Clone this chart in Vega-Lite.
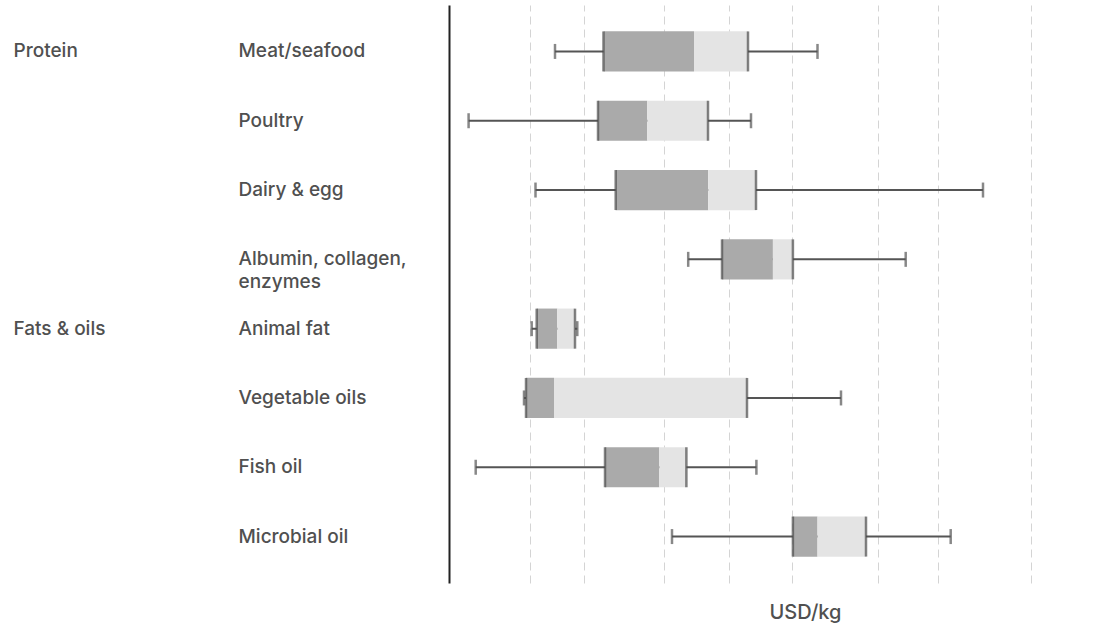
{
  "$schema": "https://vega.github.io/schema/vega-lite/v6.json",
  "width": 661,
  "height": 578,
  "autosize": {"type": "none"},
  "padding": {"left": 449, "top": 5, "right": 10, "bottom": 40},
  "background": "white",
  "config": {
    "view": {"stroke": null},
    "font": "Inter"
  },
  "datasets": {
    "boxes": [
      {"group": "Protein", "category": "Meat/seafood", "low": 106, "q1": 154.5, "median": 245, "q3": 299, "high": 368.5},
      {"group": "Protein", "category": "Poultry", "low": 19.6, "q1": 149, "median": 198.3, "q3": 259, "high": 302},
      {"group": "Protein", "category": "Dairy & egg", "low": 86.5, "q1": 166.7, "median": 259.2, "q3": 307, "high": 534},
      {"group": "Protein", "category": "Albumin, collagen, enzymes", "low": 239.2, "q1": 273, "median": 323.9, "q3": 343.9, "high": 456.7},
      {"group": "Fats & oils", "category": "Animal fat", "low": 82.7, "q1": 87.7, "median": 108.3, "q3": 126, "high": 128.3},
      {"group": "Fats & oils", "category": "Vegetable oils", "low": 75, "q1": 77, "median": 105, "q3": 298, "high": 392},
      {"group": "Fats & oils", "category": "Fish oil", "low": 26.7, "q1": 156, "median": 210.3, "q3": 237.4, "high": 307.4},
      {"group": "Fats & oils", "category": "Microbial oil", "low": 223, "q1": 343.9, "median": 368.5, "q3": 417, "high": 501.7}
    ]
  },
  "data": {"name": "boxes"},
  "encoding": {
    "y": {
      "field": "category",
      "type": "nominal",
      "scale": {
        "domain": ["Meat/seafood", "Poultry", "Dairy & egg", "Albumin, collagen, enzymes", "Animal fat", "Vegetable oils", "Fish oil", "Microbial oil"],
        "paddingInner": 0,
        "paddingOuter": 0.17
      },
      "axis": null
    }
  },
  "layer": [
    {
      "mark": {"type": "rule", "color": "#555555", "strokeWidth": 2},
      "encoding": {
        "x": {
          "field": "low",
          "type": "quantitative",
          "scale": {"domain": [0, 661], "nice": false, "zero": false},
          "axis": {
            "values": [81, 135, 215, 279.6, 342.8, 429, 489, 582],
            "grid": true,
            "gridDash": [8, 5],
            "gridColor": "#d4d4d4",
            "gridWidth": 1,
            "labels": false,
            "ticks": false,
            "domain": false,
            "title": "USD/kg",
            "titleFont": "Inter",
            "titleFontSize": 20,
            "titleFontWeight": 500,
            "titleColor": "#505050",
            "titlePadding": 19,
            "titleX": 356
          }
        },
        "x2": {"field": "high"},
        "y": {
          "field": "category",
          "type": "nominal",
          "axis": {
            "orient": "left",
            "title": null,
            "ticks": false,
            "domain": true,
            "domainColor": "#222222",
            "domainWidth": 2,
            "labelAlign": "left",
            "labelPadding": 211,
            "labelFont": "Inter",
            "labelFontSize": 19,
            "labelFontWeight": 500,
            "labelColor": "#505050",
            "labelLineHeight": 23,
            "labelLimit": 300,
            "labelExpr": "datum.label == 'Albumin, collagen, enzymes' ? ['Albumin, collagen,', 'enzymes'] : datum.label"
          }
        }
      }
    },
    {
      "mark": {"type": "tick", "color": "#555555", "thickness": 2.5, "size": 15, "orient": "vertical"},
      "encoding": {
        "x": {"field": "low", "type": "quantitative"},
        "y": {
          "field": "category",
          "type": "nominal",
          "axis": {
            "orient": "left",
            "title": null,
            "ticks": false,
            "domain": false,
            "labelAlign": "left",
            "labelPadding": 436,
            "labelFont": "Inter",
            "labelFontSize": 19,
            "labelFontWeight": 500,
            "labelColor": "#505050",
            "labelLimit": 300,
            "labelExpr": "datum.label == 'Meat/seafood' ? 'Protein' : (datum.label == 'Animal fat' ? 'Fats & oils' : '')"
          }
        }
      }
    },
    {
      "mark": {"type": "tick", "color": "#555555", "thickness": 2.5, "size": 15, "orient": "vertical"},
      "encoding": {
        "x": {"field": "high", "type": "quantitative"}
      }
    },
    {
      "mark": {"type": "bar", "color": "#aaaaaa", "height": {"band": 0.58}},
      "encoding": {
        "x": {"field": "q1", "type": "quantitative"},
        "x2": {"field": "median"}
      }
    },
    {
      "mark": {"type": "bar", "color": "#e4e4e4", "height": {"band": 0.58}},
      "encoding": {
        "x": {"field": "median", "type": "quantitative"},
        "x2": {"field": "q3"}
      }
    },
    {
      "mark": {"type": "tick", "color": "#4d4d4d", "thickness": 2.5, "size": 40, "orient": "vertical"},
      "encoding": {
        "x": {"field": "q1", "type": "quantitative"}
      }
    },
    {
      "mark": {"type": "tick", "color": "#4d4d4d", "thickness": 2.5, "size": 40, "orient": "vertical"},
      "encoding": {
        "x": {"field": "q3", "type": "quantitative"}
      }
    }
  ],
  "resolve": {"axis": {"y": "independent"}}
}
